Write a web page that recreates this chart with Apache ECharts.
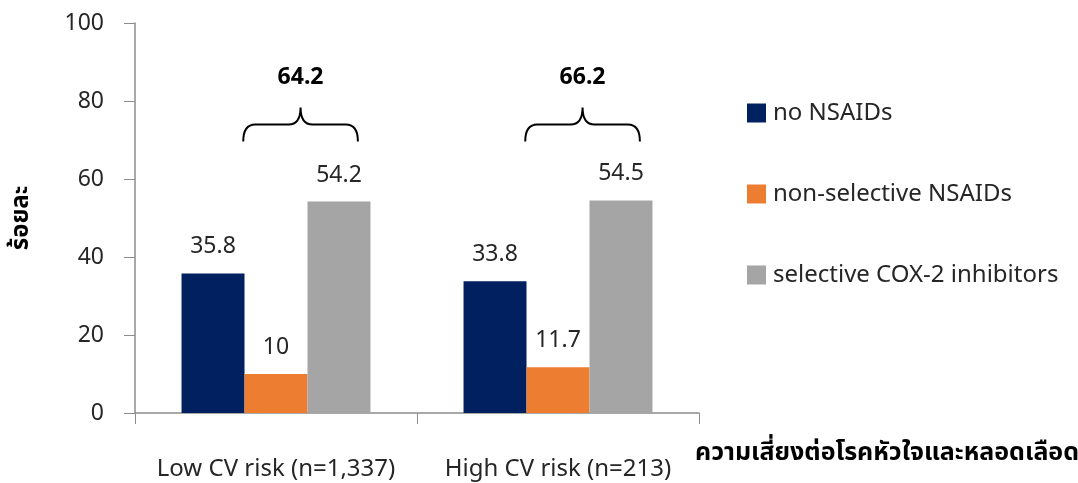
<!DOCTYPE html>
<html>
<head>
<meta charset="utf-8">
<script src="https://cdn.jsdelivr.net/npm/echarts@6/dist/echarts.min.js"></script>
<style>
  html, body { margin: 0; padding: 0; background: #fff; }
  #chart { width: 1078px; height: 483px; }
</style>
</head>
<body>
<div id="chart"></div>
<script>
// Share of patients by NSAID use, split by cardiovascular risk group
const categories = ['Low CV risk (n=1,337)', 'High CV risk (n=213)'];
const seriesNames = ['no NSAIDs', 'non-selective NSAIDs', 'selective COX-2 inhibitors'];
const noNsaids = [35.8, 33.8];
const nonSelective = [10, 11.7];
const cox2 = [54.2, 54.5];
// Combined NSAID users (non-selective + COX-2), shown above each group with a brace
const nsaidTotals = [64.2, 66.2];
const yTicks = [0, 20, 40, 60, 80, 100];

const colors = ['#002060', '#ED7D31', '#A5A5A5'];
const FONT = '"Noto Sans", "Noto Sans Thai", sans-serif';
const TEXT = '#262626';
const AXIS = '#8c8c8c';
const BRACE_LEVEL = 74;   // vertical placement of the braces, in axis units

const chart = echarts.init(document.getElementById('chart'));

function barSeries(name, values, color) {
  return {
    name: name,
    type: 'bar',
    data: values,
    barGap: '0%',
    barCategoryGap: '33%',
    itemStyle: { color: color },
    label: {
      show: true,
      position: 'top',
      distance: 15,
      color: TEXT,
      fontFamily: FONT,
      fontSize: 23
    }
  };
}

// Curly brace over the orange and grey bars, with the combined value on top
function renderBrace(params, api) {
  const idx = api.value(0);
  const center = api.coord([idx, BRACE_LEVEL]);
  const catW = api.size([1, 0])[0];
  const barW = catW * (1 - 0.33) / 3;
  const L = center[0] - barW * 0.52;
  const R = center[0] + barW * 1.3;
  const M = (L + R) / 2;
  const yb = center[1];
  const h = 17, r = 12;
  const path =
    'M' + L + ',' + (yb + h) +
    ' Q' + L + ',' + yb + ' ' + (L + r) + ',' + yb +
    ' L' + (M - r) + ',' + yb +
    ' Q' + M + ',' + yb + ' ' + M + ',' + (yb - h) +
    ' Q' + M + ',' + yb + ' ' + (M + r) + ',' + yb +
    ' L' + (R - r) + ',' + yb +
    ' Q' + R + ',' + yb + ' ' + R + ',' + (yb + h);
  return {
    type: 'group',
    children: [
      {
        type: 'path',
        shape: { pathData: path },
        style: { fill: null, stroke: '#000', lineWidth: 2 }
      },
      {
        type: 'text',
        style: {
          text: String(api.value(1)),
          x: M,
          y: yb - h - 30,
          align: 'center',
          verticalAlign: 'middle',
          fill: '#000',
          font: 'bold 23px ' + FONT
        }
      }
    ]
  };
}

chart.setOption({
  animation: false,
  backgroundColor: '#fff',
  color: colors,
  grid: { left: 135, right: 379, top: 23, bottom: 70, outerBoundsMode: 'none' },
  legend: {
    orient: 'vertical',
    left: 742,
    top: 96,
    itemWidth: 19,
    itemHeight: 19,
    itemGap: 57,
    icon: 'rect',
    data: seriesNames,
    textStyle: { color: TEXT, fontFamily: FONT, fontSize: 24, padding: [0, 0, 0, 2] }
  },
  xAxis: {
    type: 'category',
    data: categories,
    name: 'ความเสี่ยงต่อโรคหัวใจและหลอดเลือด',
    nameLocation: 'end',
    nameGap: -4,
    nameTextStyle: {
      color: '#000',
      fontFamily: FONT,
      fontSize: 25,
      fontWeight: 'bold',
      align: 'left',
      verticalAlign: 'top',
      padding: [27, 0, 0, 0]
    },
    axisLine: { lineStyle: { color: AXIS, width: 1.5 } },
    axisTick: { show: true, length: 11, lineStyle: { color: AXIS } },
    axisLabel: { interval: 0, hideOverlap: false, color: TEXT, fontFamily: FONT, fontSize: 24, margin: 44 }
  },
  yAxis: {
    type: 'value',
    min: yTicks[0],
    max: yTicks[yTicks.length - 1],
    interval: yTicks[1] - yTicks[0],
    name: 'ร้อยละ',
    nameLocation: 'middle',
    nameGap: 102,
    nameRotate: 90,
    nameTextStyle: { color: '#000', fontFamily: FONT, fontSize: 24, fontWeight: 'bold' },
    axisLine: { show: true, lineStyle: { color: AXIS, width: 1.5 } },
    axisTick: { show: true, length: 11, lineStyle: { color: AXIS } },
    axisLabel: { color: TEXT, fontFamily: FONT, fontSize: 23, margin: 31 },
    splitLine: { show: false }
  },
  series: [
    barSeries(seriesNames[0], noNsaids, colors[0]),
    barSeries(seriesNames[1], nonSelective, colors[1]),
    barSeries(seriesNames[2], cox2, colors[2]),
    {
      type: 'custom',
      name: 'combined',
      renderItem: renderBrace,
      data: nsaidTotals.map((v, i) => [i, v]),
      encode: { x: 0, y: 1 },
      silent: true,
      z: 5
    }
  ]
});
</script>
</body>
</html>
